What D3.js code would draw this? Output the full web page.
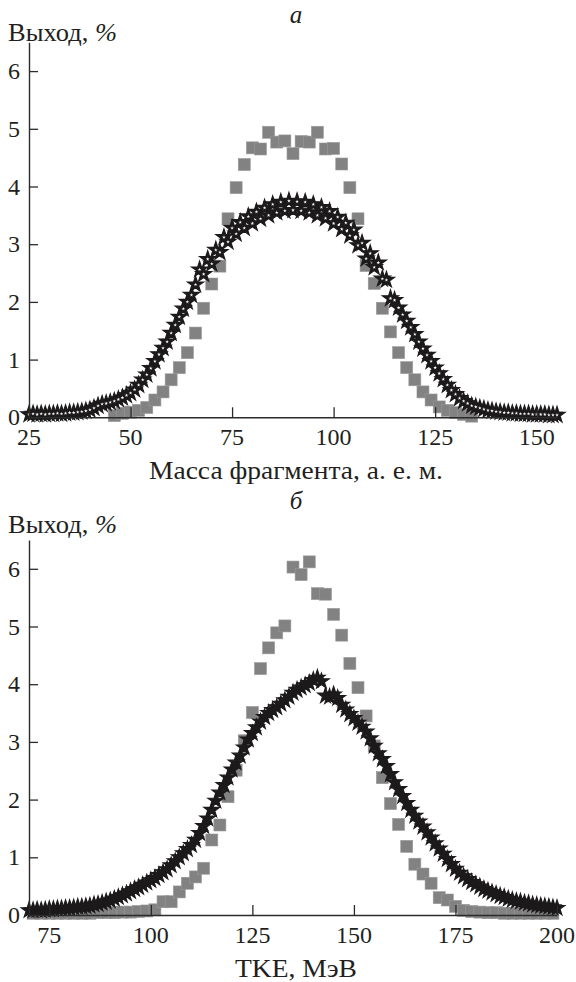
<!DOCTYPE html>
<html><head><meta charset="utf-8">
<script src="https://cdn.jsdelivr.net/npm/d3@7"></script>
<style>
body{margin:0;background:#fff}
svg{display:block}
</style>
</head><body>
<svg id="c" width="576" height="982"></svg>
<script>
// ---------- data ----------
const massTicks = [25, 50, 75, 100, 125, 150];
const tkeTicks = [75, 100, 125, 150, 175, 200];
const yTicks = [0, 1, 2, 3, 4, 5, 6];

// (a) fragment mass
const massSquareX = d3.range(46, 135, 2);
const massSquareY = [0.03,0.07,0.09,0.12,0.17,0.30,0.44,0.65,0.86,1.12,
  1.46,1.89,2.31,2.62,3.44,3.98,4.38,4.67,4.65,4.94,
  4.77,4.79,4.57,4.78,4.77,4.94,4.65,4.66,4.39,3.98,
  3.44,2.63,2.32,1.89,1.48,1.12,0.86,0.65,0.44,0.30,
  0.18,0.12,0.08,0.05,0.02];
const massStarX = d3.range(25, 156);
const massStarY = [
  0.05,0.06,0.05,0.06,0.05,0.06,0.06,0.07,0.06,0.07,
  0.08,0.08,0.09,0.10,0.11,0.13,0.16,0.20,0.23,0.24,
  0.26,0.28,0.31,0.34,0.38,0.42,0.48,0.56,0.65,0.74,
  0.85,0.97,1.09,1.20,1.31,1.46,1.60,1.74,1.88,2.00,
  2.12,2.30,2.56,2.48,2.74,2.66,2.90,2.86,3.12,3.04,
  3.28,3.18,3.38,3.28,3.48,3.36,3.56,3.44,3.63,3.50,
  3.69,3.55,3.73,3.58,3.75,3.59,3.74,3.58,3.73,3.55,
  3.69,3.50,3.64,3.45,3.57,3.36,3.47,3.26,3.37,3.15,
  3.25,2.98,3.02,2.75,2.84,2.60,2.68,2.40,2.38,2.06,
  2.03,1.90,1.78,1.67,1.56,1.44,1.31,1.19,1.08,0.97,
  0.86,0.76,0.66,0.56,0.47,0.40,0.33,0.28,0.24,0.20,
  0.18,0.16,0.14,0.12,0.11,0.10,0.09,0.08,0.08,0.07,
  0.07,0.06,0.06,0.06,0.05,0.05,0.05,0.05,0.04,0.04,
  0.04];

// (б) TKE
const tkeSquareX = d3.range(71, 200, 2);
const tkeSquareY = [0.03,0.03,0.03,0.03,0.03,0.03,0.03,0.03,0.04,0.04,
  0.04,0.05,0.05,0.06,0.07,
  0.09,0.23,0.23,0.40,0.55,0.66,0.81,1.30,1.56,2.05,
  2.51,3.02,3.51,4.27,4.63,4.89,5.01,6.03,5.90,6.12,
  5.57,5.56,5.21,4.85,4.36,3.94,3.45,2.93,2.38,1.93,
  1.57,1.19,0.88,0.71,0.55,0.30,0.26,0.15,0.08,
  0.06,0.05,0.04,0.04,0.03,0.03,0.03,0.03,0.03,0.03,0.03];
const tkeStarX = d3.range(70, 201);
const tkeStarY = [
  0.08,0.08,0.09,0.08,0.09,0.10,0.10,0.11,0.11,0.12,
  0.12,0.13,0.14,0.14,0.15,0.16,0.18,0.19,0.21,0.23,
  0.25,0.28,0.31,0.34,0.37,0.41,0.45,0.48,0.52,0.56,
  0.60,0.64,0.69,0.74,0.79,0.86,0.93,1.00,1.07,1.14,
  1.21,1.30,1.42,1.54,1.67,1.82,1.98,2.12,2.25,2.38,
  2.52,2.64,2.76,2.90,3.04,3.15,3.25,3.35,3.43,3.50,
  3.55,3.60,3.66,3.72,3.78,3.85,3.90,3.94,3.98,4.02,
  4.07,4.11,4.05,3.80,3.78,3.82,3.76,3.64,3.56,3.48,
  3.41,3.33,3.26,3.18,3.06,2.93,2.80,2.70,2.58,2.44,
  2.30,2.18,2.06,1.94,1.82,1.72,1.62,1.53,1.43,1.34,
  1.24,1.15,1.06,0.97,0.88,0.80,0.73,0.67,0.62,0.57,
  0.53,0.49,0.45,0.42,0.39,0.36,0.33,0.31,0.28,0.26,
  0.24,0.23,0.21,0.20,0.18,0.17,0.16,0.15,0.14,0.13,
  0.12];

// ---------- drawing ----------
const svg = d3.select("#c");
const FONT = '"Liberation Serif"';
const TICK_FS = 24;
const TITLE_FS = 25;
const ink = "#231f20";
const axisColor = "#2b2b2b";
const sqColor = "#828282";

function txt(sel, x, y, size) {
  return sel.append("text").attr("x", x).attr("y", y)
    .style("font-family", FONT).style("font-size", size + "px").style("fill", ink);
}

function panel(opt) {
  const x = d3.scaleLinear().domain(opt.xDomain).range([29, 557]);
  const y = d3.scaleLinear().domain([0, 6.5]).range([opt.y0, opt.y0 - 6.5 * 57.7]);
  const g = svg.append("g");

  // squares
  const sq = 12;
  g.append("g").selectAll("rect")
    .data(opt.sqX.map((v, i) => [v, opt.sqY[i]]))
    .join("rect")
    .attr("x", d => x(d[0]) - sq / 2)
    .attr("y", d => y(d[1]) - sq / 2)
    .attr("width", sq).attr("height", sq)
    .attr("fill", sqColor)
    .attr("stroke", "#9a9a9a").attr("stroke-width", 0.6);

  // stars
  const starData = opt.stX.map((v, i) => [v, opt.stY[i]]);
  const bigStar = d3.symbol().type(d3.symbolStar).size(opt.starSize)();
  g.append("g").selectAll("path")
    .data(starData)
    .join("path")
    .attr("d", bigStar)
    .attr("transform", d => `translate(${x(d[0])},${y(d[1])})`)
    .attr("fill", "#1c1a1b")
    .attr("stroke", "#1c1a1b").attr("stroke-width", 1.2);
  if (opt.hollow) {
    const small = d3.symbol().type(d3.symbolStar).size(4)();
    g.append("g").selectAll("path")
      .data(starData)
      .join("path")
      .attr("d", small)
      .attr("transform", d => `translate(${x(d[0])},${y(d[1])})`)
      .attr("fill", "#ffffff");
  }

  // axes (labels drawn as separate texts in the serif font)
  const ax = g.append("g").attr("transform", `translate(0,${opt.y0})`)
    .call(d3.axisBottom(x).tickValues(opt.xTicks).tickFormat("")
      .tickSizeInner(-10).tickSizeOuter(0));
  const ay = g.append("g").attr("transform", `translate(29,0)`)
    .call(d3.axisLeft(y).tickValues(yTicks).tickFormat("")
      .tickSizeInner(-9).tickSizeOuter(0));
  [ax, ay].forEach(a => {
    a.select(".domain").attr("stroke", axisColor).attr("stroke-width", 1.4);
    a.selectAll(".tick line").attr("stroke", axisColor).attr("stroke-width", 1.3);
    a.selectAll(".tick text").remove();
  });
  const xl = g.append("g");
  opt.xTicks.forEach(t => {
    txt(xl, x(t), opt.y0 + 28, TICK_FS).attr("text-anchor", "middle").text(String(t));
  });
  const yl = g.append("g");
  yTicks.forEach(t => {
    txt(yl, 20, y(t) + 8, TICK_FS).attr("text-anchor", "end").text(String(t));
  });

  // texts
  txt(g, 296, opt.letterY, TITLE_FS).attr("text-anchor", "middle")
    .style("font-style", "italic").text(opt.letter);
  const yt = txt(g, 8, opt.yTitleY, TITLE_FS)
    .attr("textLength", 109).attr("lengthAdjust", "spacingAndGlyphs");
  yt.append("tspan").text("Выход, ");
  yt.append("tspan").style("font-style", "italic").text("%");
  txt(g, 296, opt.y0 + 62, TITLE_FS).attr("text-anchor", "middle")
    .attr("textLength", opt.xTitleLen).attr("lengthAdjust", "spacingAndGlyphs")
    .text(opt.xTitle);
}

panel({
  xDomain: [25, 155], y0: 417.3, xTicks: massTicks,
  sqX: massSquareX, sqY: massSquareY, stX: massStarX, stY: massStarY,
  starSize: 80, hollow: true,
  letter: "а", letterY: 23, yTitleY: 41,
  xTitle: "Масса фрагмента, а. е. м.", xTitleLen: 294
});
panel({
  xDomain: [70, 200], y0: 915, xTicks: tkeTicks,
  sqX: tkeSquareX, sqY: tkeSquareY, stX: tkeStarX, stY: tkeStarY,
  starSize: 75, hollow: false,
  letter: "б", letterY: 509, yTitleY: 533,
  xTitle: "TKE, МэВ", xTitleLen: 122
});
</script>
</body></html>
